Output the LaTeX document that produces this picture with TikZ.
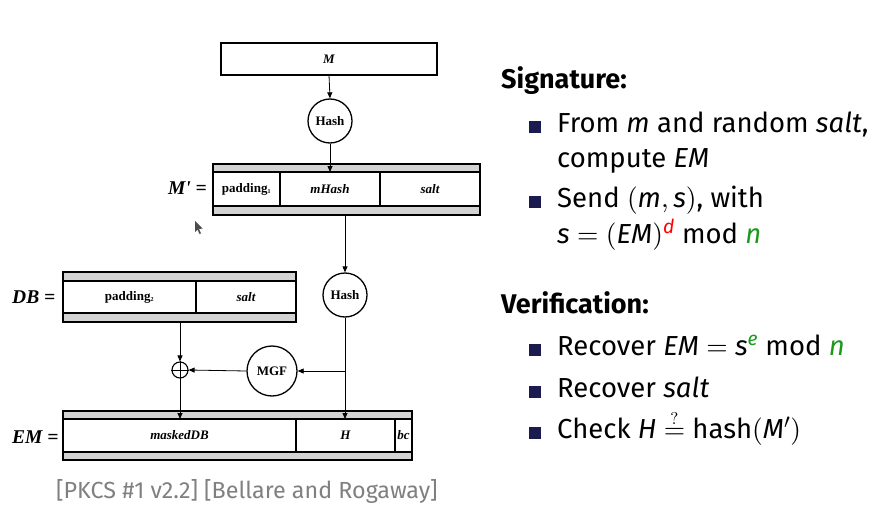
\documentclass[tikz,border=0pt]{standalone}
\usepackage{fontspec}
\setmainfont{Fira Sans}
\newfontfamily\tms{Liberation Serif}
\newfontfamily\lmr{lmroman10-regular.otf}
\newcommand\sy[1]{{\lmr #1}}
\newcommand\qeq{{\lmr\ooalign{\hfil\raisebox{14pt}{\fontsize{17}{17}\selectfont ?}\hfil\cr=\cr}}}
\usetikzlibrary{arrows.meta}
\definecolor{navy}{HTML}{1B1B4F}
\definecolor{bandgray}{HTML}{D3D3D3}
\definecolor{grn}{HTML}{1A9A1A}
\definecolor{citegray}{HTML}{808080}
\begin{document}
\begin{tikzpicture}[x=1pt,y=-1pt,
  lw/.style={line width=1.3pt},
  band/.style={fill=bandgray, draw, line width=1.3pt},
  field/.style={draw, line width=1.3pt, fill=white, inner sep=0pt, outer sep=0pt,
    font=\tms\bfseries\fontsize{13}{13}\selectfont},
  circ/.style={circle, draw, line width=1.3pt, fill=white, inner sep=0pt,
    font=\tms\bfseries\fontsize{13}{13}\selectfont},
  arr/.style={line width=0.8pt, -{Triangle[length=6pt,width=5pt]}},
  eqlabel/.style={font=\tms\bfseries\itshape\fontsize{19.5}{19.5}\selectfont, inner sep=0pt},
  body/.style={anchor=base west, inner sep=0pt, font=\fontsize{27.5}{32}\selectfont},
  head/.style={anchor=base west, inner sep=0pt, font=\bfseries\fontsize{27}{32}\selectfont},
  bullet/.style={fill=navy, minimum size=12pt, inner sep=0pt, anchor=south west}
]
\useasboundingbox[fill=white] (0,0) rectangle (888,508);

% M box and first hash
\node[field, minimum width=216pt, minimum height=32pt] (mbox) at (329,59) {\itshape M};
\node[circ, minimum size=44pt] (hash1) at (330,121) {Hash};

% M' block
\draw[band] (213,164) rectangle (480,215);
\node[field, minimum width=67pt, minimum height=34pt] (pad1) at (246.5,189) {padding\textsubscript{\fontsize{6}{6}\selectfont 1}};
\node[field, minimum width=100pt, minimum height=34pt] (mhash) at (330,189) {\itshape mHash};
\node[field, minimum width=100pt, minimum height=34pt] (salt1) at (430,189) {\itshape salt};
\node[eqlabel, anchor=east] (mplab) at (207,188) {M' =};
\coordinate (mpout) at (345,215);

% second hash
\node[circ, minimum size=44pt] (hash2) at (345,295) {Hash};

% DB block
\draw[band] (63,272) rectangle (296,322);
\node[field, minimum width=133pt, minimum height=32pt] (pad2) at (129.5,297) {padding\textsubscript{\fontsize{6}{6}\selectfont 2}};
\node[field, minimum width=100pt, minimum height=32pt] (salt2) at (246,297) {\itshape salt};
\node[eqlabel, anchor=west] (dblab) at (12,297) {DB =};
\coordinate (dbout) at (180,322);

% XOR and MGF
\node[circle, draw, line width=1.1pt, minimum size=16pt, inner sep=0pt] (xor) at (180,370) {};
\draw[line width=0.9pt] (xor.north) -- (xor.south) (xor.west) -- (xor.east);
\node[circ, minimum size=50pt] (mgf) at (272,371) {MGF};
\coordinate (junc) at (345,371);

% EM block
\draw[band] (63,411) rectangle (412,460);
\node[field, minimum width=233pt, minimum height=33pt] (masked) at (179.5,435.5) {\itshape maskedDB};
\node[field, minimum width=99pt, minimum height=33pt] (hfield) at (345.5,435.5) {\itshape H};
\node[field, minimum width=17pt, minimum height=33pt] (bc) at (403.5,435.5) {\itshape bc};
\node[eqlabel, anchor=west] (emlab) at (12,437) {EM =};

% connectors
\draw[arr] (mbox.south) -- (hash1.north);
\draw[arr] (hash1.south) -- (hash1.south |- mhash.north);
\draw[arr] (mpout) -- (hash2.north);
\draw[arr] (hash2.south) -- (hash2.south |- hfield.north);
\draw[arr] (junc) -- (mgf.east);
\draw[arr] (mgf.west) -- (xor.east);
\draw[arr] (dbout) -- (xor.north);
\draw[arr] (xor.south) -- (xor.south |- masked.north);

% cursor
\fill[gray!60!black] (195,221) -- (195,232) -- (197.5,229.5) -- (199.5,234) -- (201,233.3) -- (199,229) -- (202.5,228.5) -- cycle;

% right text
\node[head] (sig) at (501,89) {Signature:};
\node[bullet] (b1) at (529,133) {};
\node[body] (t1a) at (557,132) {From \textit{m} and random \textit{salt},};
\node[body] (t1b) at (557,167) {compute \textit{EM}};
\node[bullet] (b2) at (529,208) {};
\node[body] (t2a) at (557,207) {Send \sy{(}\textit{m}\sy{,}\,\textit{s}\sy{)}, with};
\node[body] (t2b) at (557,243) {\textit{s} \sy{=} \sy{(}\textit{EM}\sy{)}\textsuperscript{\textcolor{red}{\textit{d}}} mod \textcolor{grn}{\textit{n}}};

\node[head] (ver) at (501,313) {Verification:};
\node[bullet] (b3) at (529,356) {};
\node[body] (t3) at (557,355) {Recover \textit{EM} \sy{=} \textit{s}\textsuperscript{\textcolor{grn}{\textit{e}}} mod \textcolor{grn}{\textit{n}}};
\node[bullet] (b4) at (529,398) {};
\node[body] (t4) at (557,397) {Recover \textit{salt}};
\node[bullet] (b5) at (529,439) {};
\node[body] (t5) at (557,438) {Check \textit{H} \qeq{} hash\sy{(}\textit{M}$'$\sy{)}};

\node[anchor=base west, inner sep=0pt, text=citegray, font=\fontsize{23.3}{26}\selectfont] (cite) at (56,498) {[PKCS \#1 v2.2] [Bellare and Rogaway]};
\end{tikzpicture}
\end{document}
